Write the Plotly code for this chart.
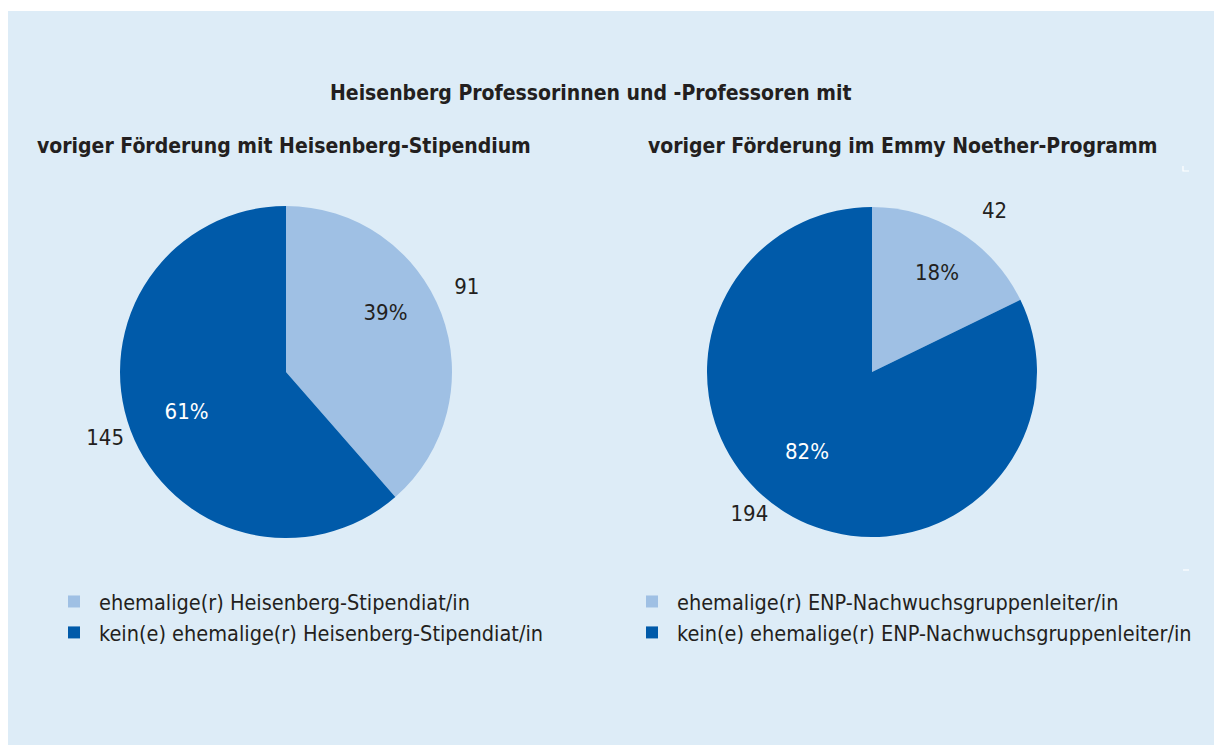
import plotly.graph_objects as go

# ---- data ----
labels_left = ["ehemalige(r) Heisenberg-Stipendiat/in",
               "kein(e) ehemalige(r) Heisenberg-Stipendiat/in"]
values_left = [91, 145]
labels_right = ["ehemalige(r) ENP-Nachwuchsgruppenleiter/in",
                "kein(e) ehemalige(r) ENP-Nachwuchsgruppenleiter/in"]
values_right = [42, 194]

title_main = "Heisenberg Professorinnen und -Professoren mit"
title_left = "voriger Förderung mit Heisenberg-Stipendium"
title_right = "voriger Förderung im Emmy Noether-Programm"

# ---- style ----
W, H = 1214, 745
LIGHT = "#9fc0e4"
DARK = "#005aa9"
BG = "#ddecf7"
TXT = "#231f20"
FONT = "Liberation Sans Narrow, DejaVu Sans Condensed, Roboto, sans-serif"
CLEAR = "rgba(0,0,0,0)"
LABEL_LIFT = 10  # px: raise label rings so text centres sit like the reference


def px(x):
    return x / W


def py(y):
    return 1 - y / H


def dom(cx, cy, r):
    return dict(x=[px(cx - r), px(cx + r)], y=[py(cy + r), py(cy - r)])


fig = go.Figure()

for labels, values, cx, cy, r, leg, pct_rot, val_rot in [
    (labels_left, values_left, 286, 372, 166, "legend", -6, -2),
    (labels_right, values_right, 872, 372, 165, "legend2", 4, 7),
]:
    common = dict(labels=labels, values=values, sort=False, direction="clockwise")
    # filled pie
    fig.add_trace(go.Pie(
        **common, rotation=0, domain=dom(cx, cy, r),
        marker=dict(colors=[LIGHT, DARK], line=dict(width=0)),
        textinfo="none", legend=leg, showlegend=True,
        hoverinfo="label+value+percent",
    ))
    # percent labels (transparent ring)
    fig.add_trace(go.Pie(
        **common, rotation=pct_rot, domain=dom(cx, cy - LABEL_LIFT, r), hole=0.34,
        marker=dict(colors=[CLEAR, CLEAR], line=dict(width=0)),
        texttemplate="%{percent:.0%}", textposition="inside",
        insidetextorientation="horizontal",
        insidetextfont=dict(color=[TXT, "white"], size=22, family=FONT),
        showlegend=False, legend=leg, hoverinfo="skip",
    ))
    # value labels (transparent outer ring)
    R2 = r * 1.36
    fig.add_trace(go.Pie(
        **common, rotation=val_rot, domain=dom(cx, cy - LABEL_LIFT, R2), hole=r / R2,
        marker=dict(colors=[CLEAR, CLEAR], line=dict(width=0)),
        texttemplate="%{value}", textposition="inside",
        insidetextorientation="horizontal",
        insidetextfont=dict(color=TXT, size=22, family=FONT),
        showlegend=False, legend=leg, hoverinfo="skip",
    ))

shapes = [
    dict(type="rect", xref="paper", yref="paper", x0=px(8), x1=1, y0=0, y1=py(11),
         fillcolor=BG, line=dict(width=0), layer="below"),
    # small white crop marks
    dict(type="path", xref="paper", yref="paper",
         path=f"M {px(1183)} {py(166)} L {px(1183)} {py(171)} L {px(1189)} {py(171)}",
         line=dict(color="white", width=1.2)),
    dict(type="line", xref="paper", yref="paper", x0=px(1183), x1=px(1189),
         y0=py(570), y1=py(570), line=dict(color="white", width=1.2)),
]

annotations = [
    dict(text=f"<b>{title_main}</b>", x=px(590), y=py(93), xref="paper", yref="paper",
         showarrow=False, xanchor="center", yanchor="middle",
         font=dict(size=21, color=TXT, family=FONT)),
    dict(text=f"<b>{title_left}</b>", x=px(284), y=py(146), xref="paper", yref="paper",
         showarrow=False, xanchor="center", yanchor="middle",
         font=dict(size=21, color=TXT, family=FONT)),
    dict(text=f"<b>{title_right}</b>", x=px(902), y=py(146), xref="paper", yref="paper",
         showarrow=False, xanchor="center", yanchor="middle",
         font=dict(size=21, color=TXT, family=FONT)),
]

legend_style = dict(
    orientation="v", xanchor="left", yanchor="top", itemwidth=40,
    bgcolor="rgba(0,0,0,0)", font=dict(size=21.5, color=TXT, family=FONT),
    itemclick=False, itemdoubleclick=False,
)

fig.update_layout(
    width=W, height=H,
    margin=dict(l=0, r=0, t=0, b=0),
    paper_bgcolor="white", plot_bgcolor="white",
    shapes=shapes, annotations=annotations,
    legend=dict(x=px(49), y=py(581), **legend_style),
    legend2=dict(x=px(627), y=py(581), **legend_style),
    font=dict(family=FONT, color=TXT),
)

# remove the default page margin so the figure fills the window exactly
fig.write_html("out.html",
               config={"displayModeBar": False},
               post_script="document.body.style.margin='0';"
                           "document.body.style.overflow='hidden';")
